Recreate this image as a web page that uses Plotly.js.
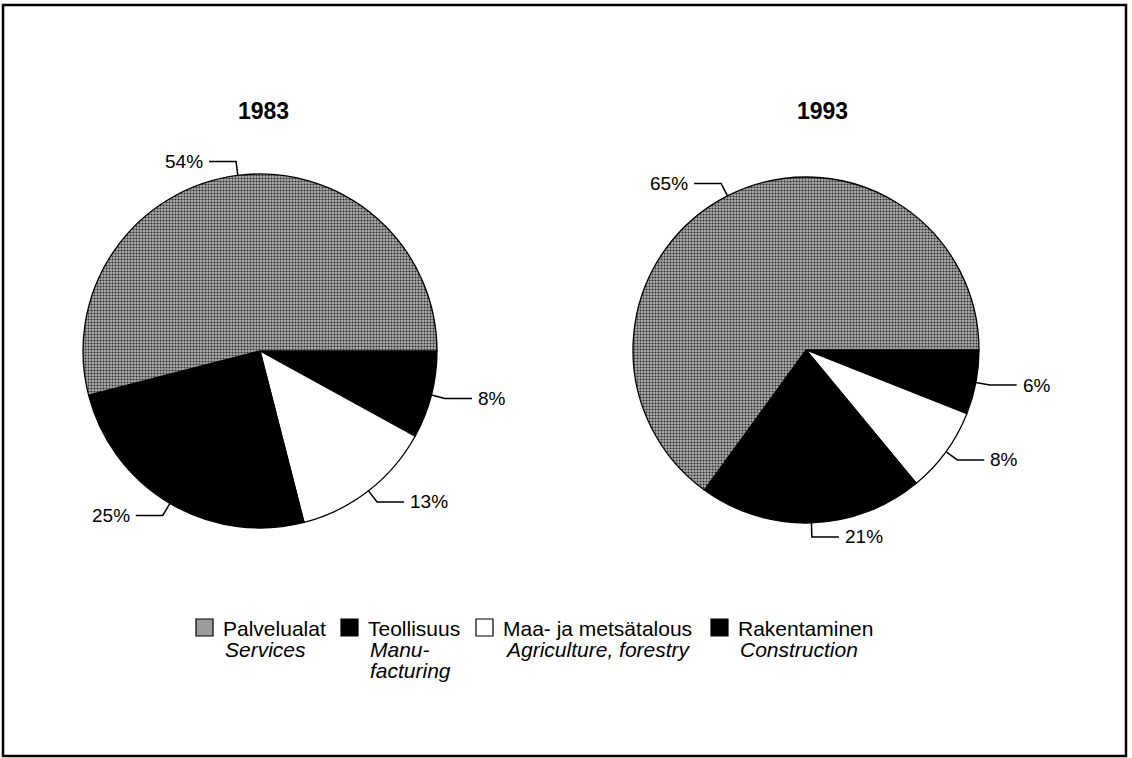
<!DOCTYPE html>
<html>
<head>
<meta charset="utf-8">
<script src="https://cdn.plot.ly/plotly-3.0.1.min.js"></script>
<style>
html, body { margin: 0; padding: 0; background: #fff; }
#chart { width: 1132px; height: 758px; }
</style>
</head>
<body>
<div id="chart"></div>
<script>
// data, in legend order
const years = ['1983', '1993'];
const labelsFi = ['Palvelualat', 'Teollisuus', 'Maa- ja metsätalous', 'Rakentaminen'];
const labelsEn = ['Services', 'Manu-<br>facturing', 'Agriculture, forestry', 'Construction'];
const shares1983 = [54, 25, 13, 8];
const shares1993 = [65, 21, 8, 6];

const W = 1132, H = 758;
const fontFamily = '"Liberation Sans", Arial, Helvetica, sans-serif';
const sliceColors = ['#9c9c9c', '#000000', '#ffffff', '#000000'];

// pie placement (px from top-left)
const pies = [
  {values: shares1983, cx: 260, cy: 351, r: 177, titleX: 263},
  {values: shares1993, cx: 806, cy: 350, r: 173, titleX: 823}
];
const legendX = [196, 341, 476, 711];
const legendRows = [628, 649, 670];

function px(x) { return x / W; }
function py(y) { return 1 - y / H; }

let data = [];
let shapes = [];
let annotations = [];

pies.forEach(function (p, k) {
  // slices go clockwise from 3 o'clock: Construction first, Services last
  data.push({
    type: 'pie',
    values: p.values.slice().reverse(),
    labels: labelsFi.slice().reverse(),
    sort: false,
    direction: 'clockwise',
    rotation: 90,
    textinfo: 'none',
    hoverinfo: 'label+percent',
    showlegend: false,
    domain: {x: [px(p.cx - p.r), px(p.cx + p.r)], y: [py(p.cy + p.r), py(p.cy - p.r)]},
    marker: {
      colors: sliceColors.slice().reverse(),
      line: {color: '#000', width: 1.3},
      pattern: {
        shape: ['', '', '', '.'],
        bgcolor: sliceColors.slice().reverse().map(function (c, i) { return i === 3 ? '#adadad' : c; }),
        fgcolor: '#2e2e2e',
        size: 3,
        solidity: 0.4
      }
    }
  });

  annotations.push({
    xref: 'paper', yref: 'paper', x: px(p.titleX), y: py(111),
    xanchor: 'center', yanchor: 'middle', showarrow: false,
    text: years[k], font: {size: 23, weight: 'bold'}
  });

  // leader lines + percent labels
  let tot = p.values.reduce(function (a, b) { return a + b; }, 0);
  let cum = 0;
  p.values.forEach(function (v) {
    let a = 2 * Math.PI * (cum + v / 2) / tot;
    cum += v;
    let c = Math.cos(a), s = Math.sin(a);
    let x0 = p.cx + p.r * c, y0 = p.cy - p.r * s;
    let x1 = p.cx + (p.r + 14) * c, y1 = p.cy - (p.r + 14) * s;
    let dir = c >= 0 ? 1 : -1;
    let x2 = x1 + dir * 27;
    shapes.push({
      type: 'path', xref: 'paper', yref: 'paper',
      path: 'M' + px(x0) + ',' + py(y0) + ' L' + px(x1) + ',' + py(y1) + ' L' + px(x2) + ',' + py(y1),
      line: {color: '#000', width: 1.5}
    });
    annotations.push({
      xref: 'paper', yref: 'paper', x: px(x2 + dir * 4), y: py(y1),
      xanchor: dir > 0 ? 'left' : 'right', yanchor: 'middle', showarrow: false,
      text: v + '%', font: {size: 19}
    });
  });
});

// legend, drawn by hand
labelsFi.forEach(function (lab, i) {
  let x = legendX[i];
  shapes.push({
    type: 'rect', xref: 'paper', yref: 'paper',
    x0: px(x), x1: px(x + 17), y0: py(636), y1: py(619),
    fillcolor: sliceColors[i], line: {color: '#000', width: 1.2}
  });
  annotations.push({
    xref: 'paper', yref: 'paper', x: px(x + 25), y: py(legendRows[0]),
    xanchor: 'left', yanchor: 'middle', showarrow: false,
    text: lab, font: {size: 21}
  });
  labelsEn[i].split('<br>').forEach(function (line, j) {
    annotations.push({
      xref: 'paper', yref: 'paper', x: px(x + 27), y: py(legendRows[j + 1]),
      xanchor: 'left', yanchor: 'middle', showarrow: false,
      text: line, font: {size: 21, style: 'italic'}
    });
  });
});

// frame
shapes.push({
  type: 'rect', xref: 'paper', yref: 'paper',
  x0: px(3), x1: px(1126), y0: py(756), y1: py(5),
  line: {color: '#000', width: 2.5}
});

let layout = {
  width: W,
  height: H,
  margin: {l: 0, r: 0, t: 0, b: 0},
  paper_bgcolor: '#fff',
  plot_bgcolor: '#fff',
  font: {family: fontFamily, color: '#000'},
  showlegend: false,
  shapes: shapes,
  annotations: annotations
};

Plotly.newPlot('chart', data, layout, {displayModeBar: false});
</script>
</body>
</html>
